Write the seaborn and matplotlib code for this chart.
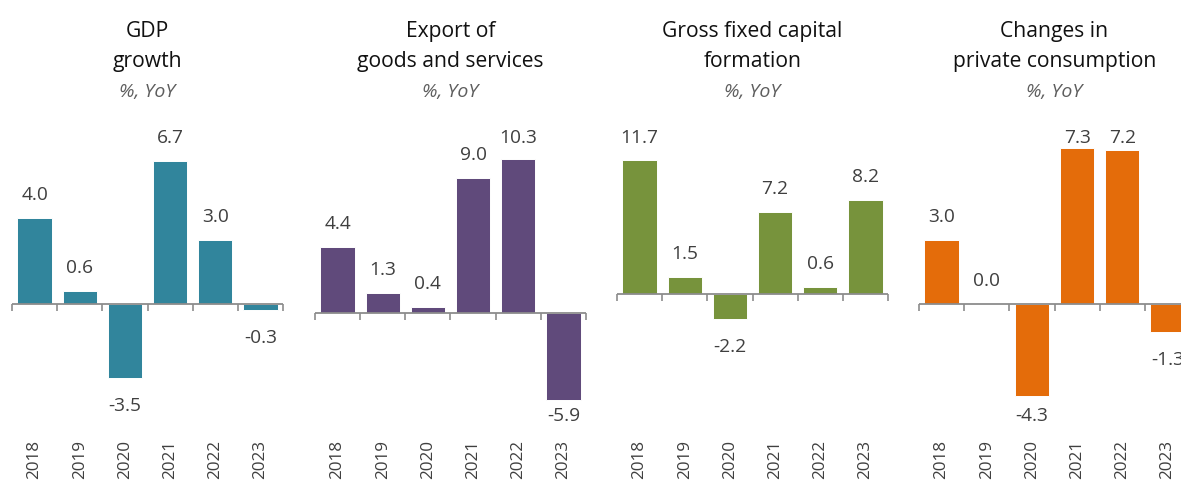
import matplotlib
matplotlib.use("Agg")
import matplotlib.pyplot as plt
import seaborn as sns
import pandas as pd

# ---- data ----
years = ["2018", "2019", "2020", "2021", "2022", "2023"]
gdp_growth = [4.0, 0.6, -3.5, 6.7, 3.0, -0.3]
exports = [4.4, 1.3, 0.4, 9.0, 10.3, -5.9]
fixed_capital = [11.7, 1.5, -2.2, 7.2, 0.6, 8.2]
private_consumption = [3.0, 0.0, -4.3, 7.3, 7.2, -1.3]

titles = [
    ("GDP", "growth"),
    ("Export of", "goods and services"),
    ("Gross fixed capital", "formation"),
    ("Changes in", "private consumption"),
]
subtitle = "%, YoY"

# ---- styling / layout ----
colors = ["#31859C", "#604A7B", "#77933C", "#E46C0A"]
y_limits = [(-6.17, 8.62), (-8.22, 12.92), (-12.31, 15.2), (-6.12, 8.6)]

W, H = 1181, 483
panel_left = [12, 315, 617, 919]
panel_width = 271
plot_top, plot_bottom = 120, 435
label_top_px, label_bottom_px = 138, 416
pos_offset_px, neg_offset_px = 23, 28

sns.set_theme(style="white")
plt.rcParams["font.family"] = ["Open Sans", "DejaVu Sans"]

fig = plt.figure(figsize=(W / 100, H / 100), dpi=100)
fig.patch.set_facecolor("white")

series = [gdp_growth, exports, fixed_capital, private_consumption]

for i, values in enumerate(series):
    left = panel_left[i]
    ax = fig.add_axes([left / W, 1 - plot_bottom / H,
                       panel_width / W, (plot_bottom - plot_top) / H])
    df = pd.DataFrame({"year": years, "value": values})
    sns.barplot(data=df, x="year", y="value", ax=ax, color=colors[i],
                saturation=1, width=0.76, edgecolor="white", linewidth=0.7)

    ymin, ymax = y_limits[i]
    ax.set_xlim(-0.5, len(years) - 0.5)
    ax.set_ylim(ymin, ymax)
    ax.set_xlabel("")
    ax.set_ylabel("")
    ax.set_xticks([])
    ax.set_yticks([])
    for s in ax.spines.values():
        s.set_visible(False)
    ax.set_facecolor("none")

    # zero line with tick marks at category boundaries
    ax.axhline(0, color="#8C8C8C", lw=1.3, zorder=3)
    bounds = [k - 0.5 for k in range(len(years) + 1)]
    ax.plot(bounds, [0] * len(bounds), linestyle="none", marker=3,
            markersize=5.2, markeredgewidth=1.2, color="#8C8C8C",
            zorder=3, clip_on=False)

    px_per_unit = (plot_bottom - plot_top) / (ymax - ymin)

    def row_to_value(py):
        return ymax - (py - plot_top) / px_per_unit

    # value labels
    for k, v in enumerate(values):
        if v >= 0:
            ly = v + pos_offset_px / px_per_unit
            ly = min(ly, row_to_value(label_top_px))
        else:
            ly = v - neg_offset_px / px_per_unit
            ly = max(ly, row_to_value(label_bottom_px))
        ax.text(k, ly, f"{v:.1f}", ha="center", va="center",
                fontsize=13.8, color="#3F3F3F", clip_on=False)

    # year labels along the bottom
    for k, yr in enumerate(years):
        x_fig = (left + (k + 0.5) * panel_width / len(years)) / W
        fig.text(x_fig, 1 - 479 / H, yr, rotation=90, ha="center",
                 va="bottom", fontsize=12.3, color="#3F3F3F")

    # panel titles
    cx = (left + panel_width / 2) / W
    fig.text(cx, 1 - 37 / H, titles[i][0], ha="center", va="baseline",
             fontsize=15.2, color="#111111")
    fig.text(cx, 1 - 67 / H, titles[i][1], ha="center", va="baseline",
             fontsize=15.2, color="#111111")
    fig.text(cx, 1 - 97 / H, subtitle, ha="center", va="baseline",
             fontsize=14, style="italic", color="#5E5E5E")

fig.savefig("out.png", dpi=100, facecolor="white")
